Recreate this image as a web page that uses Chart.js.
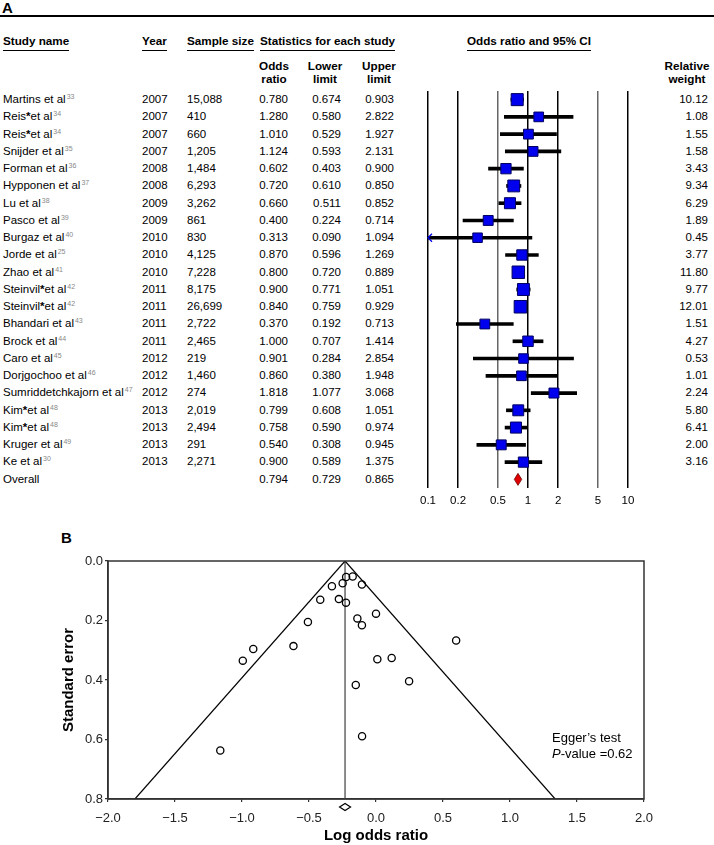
<!DOCTYPE html>
<html>
<head>
<meta charset="utf-8">
<script src="https://cdn.jsdelivr.net/npm/chart.js@4.4.1/dist/chart.umd.min.js"></script>
<style>
  html, body { margin: 0; padding: 0; }
  body { width: 714px; height: 845px; position: relative; background: #fff; overflow: hidden;
         font-family: "Liberation Sans", Arial, sans-serif; color: #000; }
  .abs { position: absolute; white-space: nowrap; }
  .hdr { font-weight: bold; font-size: 11.7px; line-height: 12px; padding-bottom: 3px; border-bottom: 1px solid #000; }
  .sub { font-weight: bold; font-size: 11.7px; line-height: 13.3px; text-align: center; }
  .row { position: absolute; left: 0; width: 714px; font-size: 11.5px; }
  .row div { position: absolute; top: 0; white-space: nowrap; }
  .r { text-align: right; }
  .ref { font-size: 7px; color: #888; position: relative; top: -4px; margin-left: 1px; }
  canvas { position: absolute; }
</style>
</head>
<body>
<div class="abs" style="left:2px;top:-1px;font-weight:bold;font-size:15px;">A</div>
<div class="abs" style="left:0;top:15px;width:714px;height:2px;background:#000;"></div>

<div class="abs hdr" style="left:3px;top:35px;">Study name</div>
<div class="abs hdr" style="left:142px;top:35px;">Year</div>
<div class="abs hdr" style="left:187px;top:35px;">Sample size</div>
<div class="abs hdr" style="left:260px;top:35px;">Statistics for each study</div>
<div class="abs hdr" style="left:467px;top:35px;">Odds ratio and 95% CI</div>

<div class="abs sub" style="left:244px;top:59px;width:60px;">Odds<br>ratio</div>
<div class="abs sub" style="left:295px;top:59px;width:60px;">Lower<br>limit</div>
<div class="abs sub" style="left:349px;top:59px;width:60px;">Upper<br>limit</div>
<div class="abs sub" style="left:652px;top:59px;width:70px;">Relative<br>weight</div>

<div id="table"></div>
<canvas id="forest" width="260" height="440" style="left:400px;top:78px;"></canvas>

<div class="abs" style="left:61px;top:529px;font-weight:bold;font-size:15px;">B</div>
<canvas id="funnel" width="714" height="320" style="left:0;top:525px;"></canvas>
<div class="abs" style="left:552px;top:730px;font-size:13px;line-height:16px;">Egger’s test<br><i>P</i>-value =0.62</div>

<script>
// ---------- Panel A data ----------
const studies = ['Martins et al', 'Reis*et al', 'Reis*et al', 'Snijder et al', 'Forman et al',
  'Hypponen et al', 'Lu et al', 'Pasco et al', 'Burgaz et al', 'Jorde et al', 'Zhao et al',
  'Steinvil*et al', 'Steinvil*et al', 'Bhandari et al', 'Brock et al', 'Caro et al',
  'Dorjgochoo et al', 'Sumriddetchkajorn et al', 'Kim*et al', 'Kim*et al', 'Kruger et al', 'Ke et al'];
const refs = ['33', '34', '34', '35', '36', '37', '38', '39', '40', '25', '41', '42', '42', '43', '44',
  '45', '46', '47', '48', '48', '49', '30'];
const years = ['2007', '2007', '2007', '2007', '2008', '2008', '2009', '2009', '2010', '2010', '2010',
  '2011', '2011', '2011', '2011', '2012', '2012', '2012', '2013', '2013', '2013', '2013'];
const sampleSizes = ['15,088', '410', '660', '1,205', '1,484', '6,293', '3,262', '861', '830', '4,125',
  '7,228', '8,175', '26,699', '2,722', '2,465', '219', '1,460', '274', '2,019', '2,494', '291', '2,271'];
const oddsRatios = [0.780, 1.280, 1.010, 1.124, 0.602, 0.720, 0.660, 0.400, 0.313, 0.870, 0.800,
  0.900, 0.840, 0.370, 1.000, 0.901, 0.860, 1.818, 0.799, 0.758, 0.540, 0.900];
const lowerLimits = [0.674, 0.580, 0.529, 0.593, 0.403, 0.610, 0.511, 0.224, 0.090, 0.596, 0.720,
  0.771, 0.759, 0.192, 0.707, 0.284, 0.380, 1.077, 0.608, 0.590, 0.308, 0.589];
const upperLimits = [0.903, 2.822, 1.927, 2.131, 0.900, 0.850, 0.852, 0.714, 1.094, 1.269, 0.889,
  1.051, 0.929, 0.713, 1.414, 2.854, 1.948, 3.068, 1.051, 0.974, 0.945, 1.375];
const weights = [10.12, 1.08, 1.55, 1.58, 3.43, 9.34, 6.29, 1.89, 0.45, 3.77, 11.80, 9.77, 12.01,
  1.51, 4.27, 0.53, 1.01, 2.24, 5.80, 6.41, 2.00, 3.16];
const overallLabel = 'Overall';
const overallOR = 0.794;
const overallLower = 0.729;
const overallUpper = 0.865;
const forestTicks = [0.1, 0.2, 0.5, 1, 2, 5, 10];

// ---------- Panel B data ----------
const logOddsRatios = [-0.249, 0.247, 0.010, 0.117, -0.508, -0.329, -0.416, -0.916, -1.162, -0.139,
  -0.223, -0.105, -0.174, -0.994, 0.000, -0.104, -0.151, 0.598, -0.224, -0.277, -0.616, -0.105];
const standardErrors = [0.075, 0.404, 0.330, 0.326, 0.205, 0.085, 0.130, 0.296, 0.637, 0.193,
  0.054, 0.079, 0.052, 0.335, 0.177, 0.589, 0.417, 0.267, 0.140, 0.128, 0.286, 0.216];
const pooledLogOR = -0.231;
const maxSE = 0.8;
const funnelXTicks = [-2.0, -1.5, -1.0, -0.5, 0.0, 0.5, 1.0, 1.5, 2.0];

// ---------- Table text ----------
const rowLabels = studies.concat([overallLabel]);
const rowH = 397 / rowLabels.length;
const table = document.getElementById('table');
function cell(html, left, width, right) {
  const d = document.createElement('div');
  d.innerHTML = html;
  d.style.left = left + 'px';
  if (width) { d.style.width = width + 'px'; d.className = 'r'; }
  return d;
}
rowLabels.forEach((name, i) => {
  const row = document.createElement('div');
  row.className = 'row';
  row.style.top = (91 + i * rowH) + 'px';
  row.style.height = rowH + 'px';
  row.style.lineHeight = rowH + 'px';
  const isOverall = i === studies.length;
  const nameHtml = name.replace('*', '<b>*</b>') + (isOverall ? '' : '<span class="ref">' + refs[i] + '</span>');
  row.appendChild(cell(nameHtml, 3));
  const or = isOverall ? overallOR : oddsRatios[i];
  const lo = isOverall ? overallLower : lowerLimits[i];
  const up = isOverall ? overallUpper : upperLimits[i];
  if (!isOverall) {
    row.appendChild(cell(years[i], 142));
    row.appendChild(cell(sampleSizes[i], 187));
    row.appendChild(cell(weights[i].toFixed(2), 640, 68));
  }
  row.appendChild(cell(or.toFixed(3), 238, 50));
  row.appendChild(cell(lo.toFixed(3), 291, 50));
  row.appendChild(cell(up.toFixed(3), 344, 50));
  table.appendChild(row);
});

// ---------- Forest plot ----------
const FONT = '"Liberation Sans", Arial, sans-serif';
const squareSide = w => 9.4 + 0.26 * w;

const forestExtras = {
  id: 'forestExtras',
  afterDatasetsDraw(chart) {
    const {ctx, scales: {x, y}} = chart;
    ctx.save();
    // arrows for clipped CIs
    lowerLimits.forEach((l, i) => {
      if (l < x.min) {
        const py = y.getPixelForValue(i);
        const px = x.left;
        ctx.strokeStyle = '#0000ee';
        ctx.lineWidth = 1.3;
        ctx.beginPath();
        ctx.moveTo(px + 4, py - 4);
        ctx.lineTo(px, py);
        ctx.lineTo(px + 4, py + 4);
        ctx.stroke();
      }
    });
    // overall diamond
    const oy = y.getPixelForValue(studies.length);
    const xl = x.getPixelForValue(overallLower);
    const xr = x.getPixelForValue(overallUpper);
    const xc = x.getPixelForValue(overallOR);
    ctx.beginPath();
    ctx.moveTo(xl, oy);
    ctx.lineTo(xc, oy - 6);
    ctx.lineTo(xr, oy);
    ctx.lineTo(xc, oy + 6);
    ctx.closePath();
    ctx.fillStyle = '#e00000';
    ctx.fill();
    ctx.strokeStyle = '#700000';
    ctx.lineWidth = 0.8;
    ctx.stroke();
    ctx.restore();
  }
};

new Chart(document.getElementById('forest'), {
  data: {
    labels: rowLabels,
    datasets: [
      {
        type: 'line',
        data: oddsRatios.concat([null]),
        showLine: false,
        order: 0,
        pointStyle: 'rect',
        pointRadius: ctx => squareSide(weights[ctx.dataIndex] || 0) / Math.SQRT2,
        pointHoverRadius: ctx => squareSide(weights[ctx.dataIndex] || 0) / Math.SQRT2,
        pointBackgroundColor: '#0000ee',
        pointBorderColor: '#000060',
        pointBorderWidth: 1
      },
      {
        type: 'bar',
        data: lowerLimits.map((l, i) => [l, upperLimits[i]]).concat([null]),
        order: 1,
        backgroundColor: '#000',
        barThickness: 3,
        borderWidth: 0
      }
    ]
  },
  options: {
    indexAxis: 'y',
    responsive: false,
    animation: false,
    events: [],
    layout: { padding: { left: 28, right: 32, top: 13, bottom: 0 } },
    plugins: { legend: { display: false }, tooltip: { enabled: false } },
    scales: {
      x: {
        type: 'logarithmic',
        min: 0.1,
        max: 10,
        afterBuildTicks: s => { s.ticks = forestTicks.map(v => ({ value: v })); },
        afterFit: s => { s.height = 30; },
        ticks: {
          autoSkip: false, maxRotation: 0, padding: 6, color: '#000',
          font: { family: FONT, size: 11.5 },
          callback: v => String(v)
        },
        grid: {
          drawTicks: false,
          lineWidth: 1.5,
          color: ctx => (ctx.tick && (ctx.tick.value === 0.5 || ctx.tick.value === 5)) ? '#666' : '#000'
        },
        border: { display: false }
      },
      y: {
        type: 'category',
        display: false,
        offset: true,
        grid: { display: false }
      }
    }
  },
  plugins: [forestExtras]
});

// ---------- Funnel plot ----------
const funnelExtras = {
  id: 'funnelExtras',
  afterDraw(chart) {
    const {ctx, chartArea: a, scales: {x}} = chart;
    ctx.save();
    ctx.strokeStyle = '#333';
    ctx.lineWidth = 1.5;
    ctx.strokeRect(a.left, a.top, a.right - a.left, a.bottom - a.top);
    // pooled estimate diamond under the axis
    const px = x.getPixelForValue(pooledLogOR);
    const py = a.bottom + 8;
    ctx.beginPath();
    ctx.moveTo(px - 5.5, py);
    ctx.lineTo(px, py - 3.5);
    ctx.lineTo(px + 5.5, py);
    ctx.lineTo(px, py + 3.5);
    ctx.closePath();
    ctx.fillStyle = '#fff';
    ctx.fill();
    ctx.strokeStyle = '#000';
    ctx.lineWidth = 1.2;
    ctx.stroke();
    ctx.restore();
  }
};

const fmtMinus = v => (v < 0 ? '\u2212' : '') + Math.abs(v).toFixed(1);

new Chart(document.getElementById('funnel'), {
  type: 'scatter',
  data: {
    datasets: [
      {
        data: logOddsRatios.map((v, i) => ({ x: v, y: standardErrors[i] })),
        pointRadius: 3.6,
        pointHoverRadius: 3.6,
        pointBackgroundColor: 'rgba(255,255,255,0)',
        pointBorderColor: '#000',
        pointBorderWidth: 1.3,
        order: 0
      },
      {
        type: 'line',
        data: [{ x: pooledLogOR, y: 0 }, { x: pooledLogOR - 1.96 * maxSE, y: maxSE }],
        borderColor: '#000', borderWidth: 1.2, pointRadius: 0, order: 1
      },
      {
        type: 'line',
        data: [{ x: pooledLogOR, y: 0 }, { x: pooledLogOR + 1.96 * maxSE, y: maxSE }],
        borderColor: '#000', borderWidth: 1.2, pointRadius: 0, order: 1
      },
      {
        type: 'line',
        data: [{ x: pooledLogOR, y: 0 }, { x: pooledLogOR, y: maxSE }],
        borderColor: '#666', borderWidth: 1.5, pointRadius: 0, order: 2
      }
    ]
  },
  options: {
    responsive: false,
    animation: false,
    events: [],
    layout: { padding: { left: 0, right: 70, top: 36, bottom: 0 } },
    plugins: { legend: { display: false }, tooltip: { enabled: false } },
    scales: {
      x: {
        type: 'linear',
        min: -2, max: 2,
        afterBuildTicks: s => { s.ticks = funnelXTicks.map(v => ({ value: v })); },
        afterFit: s => { s.height = 46; },
        ticks: { color: '#222', padding: 9, maxRotation: 0, autoSkip: false,
                 font: { family: FONT, size: 13 }, callback: v => fmtMinus(v) },
        grid: { drawOnChartArea: false, drawTicks: true, tickLength: 3, color: '#333', lineWidth: 1.2 },
        border: { color: '#333', width: 1.5 },
        title: { display: true, text: 'Log odds ratio', color: '#000',
                 font: { family: FONT, size: 15, weight: 'bold' }, padding: { top: 0, bottom: 0 } }
      },
      y: {
        type: 'linear',
        reverse: true,
        min: 0, max: 0.8,
        afterBuildTicks: s => { s.ticks = [0, 0.2, 0.4, 0.6, 0.8].map(v => ({ value: v })); },
        afterFit: s => { s.width = 108; },
        ticks: { color: '#222', padding: 2, font: { family: FONT, size: 13 }, callback: v => v.toFixed(1) },
        grid: { drawOnChartArea: false, drawTicks: true, tickLength: 3, color: '#333', lineWidth: 1.2 },
        border: { color: '#333', width: 1.5 },
        title: { display: true, text: 'Standard error', color: '#000',
                 font: { family: FONT, size: 15, weight: 'bold' }, padding: { top: 60, bottom: 0 } }
      }
    }
  },
  plugins: [funnelExtras]
});
</script>
</body>
</html>
